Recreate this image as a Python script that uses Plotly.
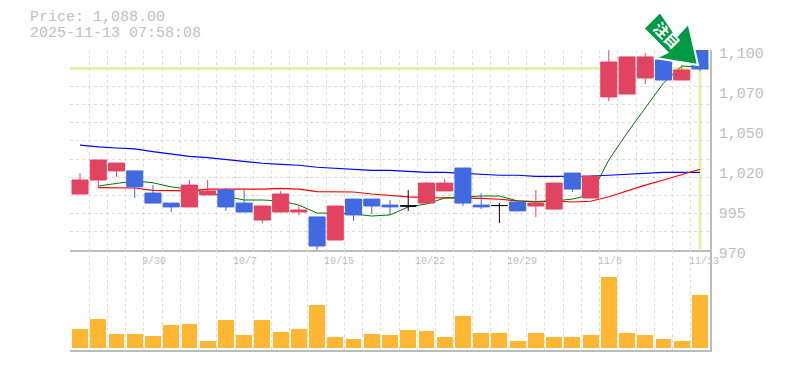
import plotly.graph_objects as go

dates = ["9/30", "10/7", "10/15", "10/22", "10/29", "11/6", "11/13"]
date_idx = [4, 9, 14, 19, 24, 29, 34]
current_price = 1088.0
price_title = "Price: 1,088.00"
stamp = "2025-11-13 07:58:08"

def py(y):
    return round(1100 - (y - 50) * 0.65, 1)

open_y = [194,180,171,171,193,203,207,195,190,203,220,212,212,217,240,199,199,205,206,203,191,168,205,205.5,202,206,209,173,198,97,94,78,60,80,50]
close_y = [180,160,163,187,203,207,185,191,207,212,206,194,210,246,206,215,206,207,206,183,183,203,207,205.5,211,203,183,189,176,62,57,57,80,70,69]
high_y = [173,160,163,171,185,203,180,180,188,190,206,191,205,217,206,199,199,200,190,182,179,168,193,203,202,190,183,173,176,50,57,53,60,65,50]
low_y = [194,187,177,198,203,212,207,195,211,212,223,212,215,251,240,221,214,215,211,203,191,206,209,223,211,217,209,192,198,101,94,84,80,80,71]
opens = [py(v) for v in open_y]
closes = [py(v) for v in close_y]
highs = [py(v) for v in high_y]
lows = [py(v) for v in low_y]
ma_short_y = [None,186,183,181,182.7,187,189,192.7,197,200,200,201,205,213,213,214,216,215,207,204,198,197,196,196,201,202,201,199,195,160,133,108,83,66,67]
ma_mid_y = [None,187.5,187.5,188,190.5,191,191,189,189,189,189,188.3,189,191.5,191.7,192,194,195.7,197,197.7,197.7,198.3,198.3,199.3,201,201.7,201,202,201.3,196.7,190.7,185,180,175,169.3]
ma_long_y = [145,147,148,149,151.7,154,156.3,157.7,159.7,161.3,163.3,164.3,165.3,167.3,168.3,169.3,170.3,170.3,171.3,172.3,172.3,173.3,174.3,175.3,175.3,176.3,176.3,176.3,176,175.3,174.3,173.3,172.3,172.3,172.3]
ma_short = [None if v is None else py(v) for v in ma_short_y]
ma_mid = [None if v is None else py(v) for v in ma_mid_y]
ma_long = [py(v) for v in ma_long_y]
volumes = [19,29,14,14,12,23,24,7,28,13,28,16,19,43,11,9,14,13,18,17,11,32,15,15,7,15,11,11,13,71,15,13,9,7,53]
idx = list(range(len(opens)))

price_ticks = [1100, 1074, 1048, 1022, 996, 970]
price_text = ["1,100", "1,070", "1,050", "1,020", "995", "970"]
grid_y = [v for v in (1100 - 130 * k / 11 for k in range(12)) if abs(v - current_price) > 1]
grid_x = [k - 0.5 for k in range(36)]

FONT = "Liberation Mono"
GREY = "#c0c0c0"
GRID = "#dcdcdc"
AXIS = "#bbbbbb"

fig = go.Figure()
for vals, col, w in [(ma_long, "#0000ff", 1.2), (ma_mid, "#ff0000", 1.2), (ma_short, "#007700", 1.0)]:
    fig.add_trace(go.Scatter(x=idx, y=vals, mode="lines", line=dict(color=col, width=w), xaxis="x", yaxis="y", showlegend=False, hoverinfo="skip"))

colored = [i for i in idx if opens[i] != closes[i]]
flat = [i for i in idx if opens[i] == closes[i]]
fig.add_trace(go.Candlestick(
    x=colored, open=[opens[i] for i in colored], high=[highs[i] for i in colored],
    low=[lows[i] for i in colored], close=[closes[i] for i in colored],
    increasing=dict(line=dict(color="#e24360", width=1), fillcolor="#e24360"),
    decreasing=dict(line=dict(color="#4169e1", width=1), fillcolor="#4169e1"),
    whiskerwidth=0, xaxis="x", yaxis="y2", showlegend=False, hoverinfo="skip"))
fig.add_trace(go.Candlestick(
    x=flat, open=[opens[i] for i in flat], high=[highs[i] for i in flat],
    low=[lows[i] for i in flat], close=[closes[i] for i in flat],
    increasing=dict(line=dict(color="#000000", width=1), fillcolor="#000000"),
    decreasing=dict(line=dict(color="#000000", width=1), fillcolor="#000000"),
    whiskerwidth=0, xaxis="x", yaxis="y2", showlegend=False, hoverinfo="skip"))
fig.add_trace(go.Bar(x=idx, y=volumes, marker=dict(color="#ffb733", line=dict(width=0)), width=0.87, xaxis="x2", yaxis="y3", showlegend=False, hoverinfo="skip"))

OFF = 8
W, H, L, T, PW, PH = 785 - OFF, 370 - OFF, 70 - OFF, 50 - OFF, 640, 300
def ax(x): return (x - 70) / PW
def ay(y): return 1 - (y - 50) / PH
arrow = [(660, 12), (643.5, 28.5), (667.5, 52.5), (655.5, 58), (698, 65), (688.5, 23.5), (676.5, 36.5)]
path = "M" + " L".join(f"{ax(a):.4f},{ay(b):.4f}" for a, b in arrow) + " Z"

shapes = [
    dict(type="line", xref="x", yref="y", x0=-0.55, x1=34.55, y0=current_price, y1=current_price, line=dict(color="#e2f2a8", width=3), layer="below"),
    dict(type="line", xref="x", yref="y", x0=idx[-1], x1=idx[-1], y0=current_price, y1=970.5, line=dict(color="#e2f2a8", width=3), layer="below"),
    dict(type="path", xref="paper", yref="paper", path=path, fillcolor="#009944", line=dict(color="#ffffff", width=2), layer="above"),
]
annotations = [
    dict(xref="paper", yref="paper", x=ax(28), y=ay(18), xanchor="left", yanchor="middle", text=price_title, showarrow=False, font=dict(family=FONT, size=15, color=GREY)),
    dict(xref="paper", yref="paper", x=ax(28), y=ay(33), xanchor="left", yanchor="middle", text=stamp, showarrow=False, font=dict(family=FONT, size=15, color=GREY)),
    dict(xref="paper", yref="paper", x=ax(666.5), y=ay(35), xanchor="center", yanchor="middle", text="<b>注目</b>", textangle=45, showarrow=False, font=dict(family="Noto Sans CJK JP", size=15, color="#ffffff")),
]
for d, i in zip(dates, date_idx):
    annotations.append(dict(xref="x", yref="paper", x=i - 0.55, y=ay(261), xanchor="left", yanchor="middle", xshift=-3, text=d, showarrow=False, font=dict(family=FONT, size=10, color=GREY)))

xrange = [-0.55, 34.55]
fig.update_layout(
    width=W, height=H, margin=dict(l=L, r=W - L - PW, t=T, b=H - T - PH, pad=0, autoexpand=False),
    paper_bgcolor="#ffffff", plot_bgcolor="#ffffff", showlegend=False, boxgap=0.12, boxgroupgap=0, bargap=0,
    shapes=shapes, annotations=annotations,
    xaxis=dict(domain=[0, 1], range=xrange, tickmode="array", tickvals=grid_x, showticklabels=False, ticks="", showgrid=True, gridcolor=GRID, griddash="3px,3px", gridwidth=1, zeroline=False, showline=True, linecolor=AXIS, linewidth=1.5, rangeslider=dict(visible=False), anchor="y"),
    yaxis=dict(domain=[1/3, 1], range=[970, 1100], tickmode="array", tickvals=grid_y, showticklabels=False, ticks="", showgrid=True, gridcolor=GRID, griddash="3px,3px", gridwidth=1, zeroline=False, showline=False, anchor="x"),
    yaxis2=dict(overlaying="y", matches="y", range=[970, 1100], side="right", tickmode="array", tickvals=price_ticks, ticktext=price_text, ticks="", showgrid=False, zeroline=False, showline=True, linecolor=AXIS, linewidth=1.5, tickfont=dict(family=FONT, size=15, color=GREY), ticklabelshift=3, ticklabelstandoff=4, anchor="x"),
    xaxis2=dict(domain=[0, 1], range=xrange, tickmode="array", tickvals=grid_x, showticklabels=False, ticks="", showgrid=True, gridcolor=GRID, griddash="3px,3px", gridwidth=1, zeroline=False, showline=True, linecolor=AXIS, linewidth=1.5, anchor="y3"),
    yaxis3=dict(domain=[0, 1/3], range=[-2, 98], side="right", showticklabels=False, ticks="", showgrid=False, zeroline=False, showline=True, linecolor=AXIS, linewidth=1.5, anchor="x2"),
)
fig.write_html("out.html")
